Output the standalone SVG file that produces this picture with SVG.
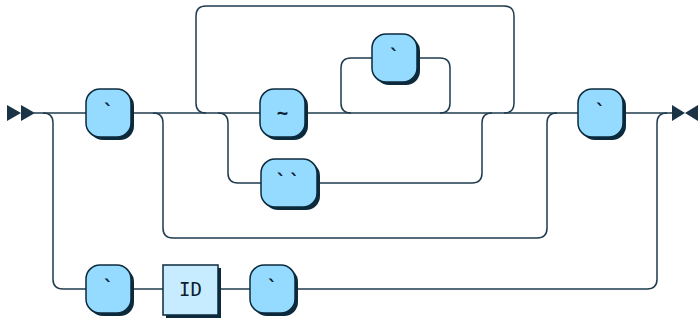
<svg xmlns="http://www.w3.org/2000/svg" width="699" height="322" viewBox="0 0 699 322">
<style>
.line{fill:none;stroke:#1f3b4d;stroke-width:1.5}
.shadow{fill:#0c2a3c}
.term{fill:#95dbff;stroke:#0c2a3c;stroke-width:1.5}
.nonterm{fill:#c8ecff;stroke:#0c2a3c;stroke-width:1.5}
.arrow{fill:#1a3446}
text{font-family:"DejaVu Sans Mono","Liberation Mono",monospace;font-size:19px;fill:#0c2030;text-anchor:middle}
.tk{font-weight:bold}
</style>
<rect width="699" height="322" fill="#ffffff"/>
<g id="connectors">
<polygon class="arrow" points="7,105 21,113 7,121"/>
<polygon class="arrow" points="21,105 35,113 21,121"/>
<path class="line" d="M34 113 H86"/>
<path class="line" d="M131 113 H260"/>
<path class="line" d="M307 113 H578"/>
<path class="line" d="M623 113 H673"/>
<polygon class="arrow" points="672,105 685,113 672,121"/>
<polygon class="arrow" points="698,105 685,113 698,121"/>
<path class="line" d="M43 113 Q53 113 53 123 V279 Q53 289 63 289 H86"/>
<path class="line" d="M131 289 H163"/>
<path class="line" d="M218 289 H250"/>
<path class="line" d="M295 289 H647 Q657 289 657 279 V123 Q657 113 667 113"/>
<path class="line" d="M153 113 Q163 113 163 123 V228 Q163 238 173 238 H537 Q547 238 547 228 V123 Q547 113 557 113"/>
<path class="line" d="M206 113 Q196 113 196 103 V16 Q196 6 206 6 H504 Q514 6 514 16 V103 Q514 113 504 113"/>
<path class="line" d="M218 113 Q228 113 228 123 V173 Q228 183 238 183 H261"/>
<path class="line" d="M318 183 H472 Q482 183 482 173 V123 Q482 113 492 113"/>
<path class="line" d="M351 113 Q341 113 341 103 V68 Q341 58 351 58 H372"/>
<path class="line" d="M417 58 H440 Q450 58 450 68 V103 Q450 113 440 113"/>
</g>
<g id="t1">
<rect class="shadow" x="89" y="92" width="45" height="48" rx="14"/>
<rect class="term" x="86" y="89" width="45" height="48" rx="14"/>
<text class="tk" x="108.5" y="118">`</text>
</g>
<g id="tilde">
<rect class="shadow" x="263" y="92" width="45" height="48" rx="14"/>
<rect class="term" x="260" y="89" width="45" height="48" rx="14"/>
<text class="tk" x="282.5" y="119">~</text>
</g>
<g id="t-up">
<rect class="shadow" x="375" y="37" width="45" height="48" rx="14"/>
<rect class="term" x="372" y="34" width="45" height="48" rx="14"/>
<text class="tk" x="394.5" y="63">`</text>
</g>
<g id="t-double">
<rect class="shadow" x="264" y="162" width="56" height="48" rx="14"/>
<rect class="term" x="261" y="159" width="56" height="48" rx="14"/>
<text class="tk" x="289" y="188" letter-spacing="2">``</text>
</g>
<g id="t-last">
<rect class="shadow" x="581" y="92" width="45" height="48" rx="14"/>
<rect class="term" x="578" y="89" width="45" height="48" rx="14"/>
<text class="tk" x="600.5" y="118">`</text>
</g>
<g id="t-low1">
<rect class="shadow" x="89" y="268" width="45" height="48" rx="14"/>
<rect class="term" x="86" y="265" width="45" height="48" rx="14"/>
<text class="tk" x="108.5" y="294">`</text>
</g>
<g id="id">
<rect class="shadow" x="166" y="268" width="55" height="50"/>
<rect class="nonterm" x="163" y="265" width="55" height="50"/>
<text x="190.5" y="296">ID</text>
</g>
<g id="t-low2">
<rect class="shadow" x="253" y="268" width="45" height="48" rx="14"/>
<rect class="term" x="250" y="265" width="45" height="48" rx="14"/>
<text class="tk" x="272.5" y="294">`</text>
</g>
</svg>
